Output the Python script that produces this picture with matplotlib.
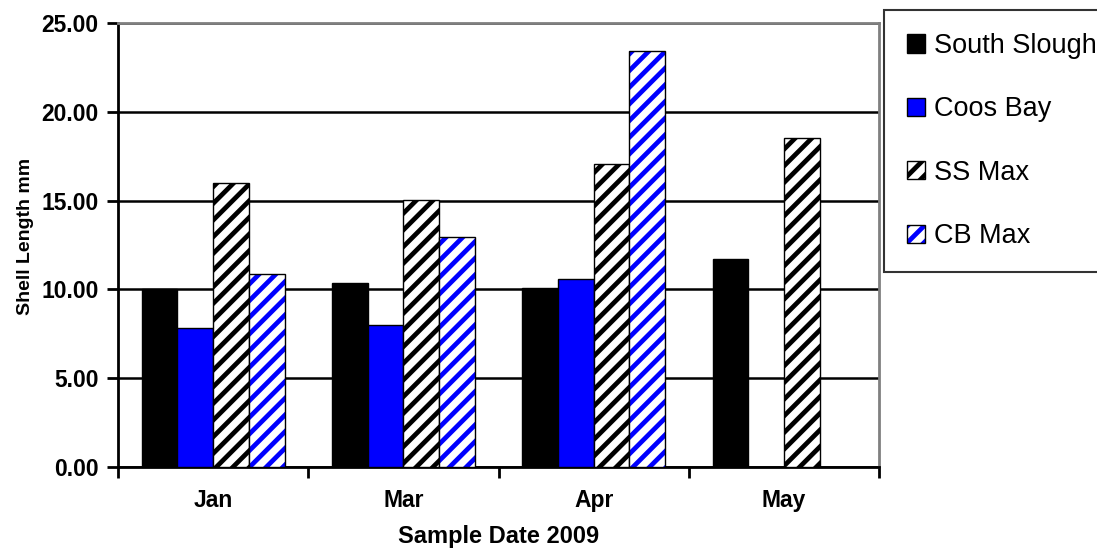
import numpy as np
import matplotlib
matplotlib.use("Agg")
import matplotlib.pyplot as plt
from matplotlib.ticker import FormatStrFormatter

plt.rcParams['font.family'] = ['Liberation Sans', 'DejaVu Sans']
plt.rcParams['hatch.linewidth'] = 3.4

# data
months = ["Jan", "Mar", "Apr", "May"]
south_slough = [10.0, 10.35, 10.1, 11.7]
coos_bay = [7.8, 8.0, 10.6, np.nan]
ss_max = [16.0, 15.05, 17.05, 18.5]
cb_max = [10.85, 12.95, 23.45, np.nan]

fig = plt.figure(figsize=(10.97, 5.55), dpi=100)
ax = fig.add_axes([0.1076, 0.1586, 0.8013 - 0.1076, 0.9586 - 0.1586])

x = np.arange(len(months))
w = 0.1875
offs = np.array([-1.5, -0.5, 0.5, 1.5]) * w

h1 = ax.bar(x + offs[0], south_slough, w, color="black", edgecolor="black", lw=1, zorder=3)
h2 = ax.bar(x + offs[1], coos_bay, w, color="#0000ff", edgecolor="black", lw=1, zorder=3)
h3 = ax.bar(x + offs[2], ss_max, w, color="white", edgecolor="black", hatch="//", lw=1, zorder=3)
h4a = ax.bar(x + offs[3], cb_max, w, color="white", edgecolor="#0000ff", hatch="//", lw=0, zorder=3)
h4b = ax.bar(x + offs[3], cb_max, w, fill=False, edgecolor="black", lw=1, zorder=4)

ax.set_xlim(-0.5, len(months) - 0.5)
ax.set_ylim(0, 25)
ax.set_yticks(np.arange(0, 26, 5))
ax.yaxis.set_major_formatter(FormatStrFormatter("%.2f"))
ax.yaxis.grid(True, color="black", lw=1.8, zorder=0)
ax.set_axisbelow(True)

ax.set_xticks(x)
ax.set_xticklabels(months, fontsize=16.5, fontweight="bold")
ax.set_xticks(np.arange(-0.5, len(months)), minor=True)
ax.tick_params(axis="x", which="major", length=0, pad=16)
ax.tick_params(axis="x", which="minor", length=8, width=2, direction="out")
ax.tick_params(axis="y", length=8, width=2, direction="out", labelsize=16.5, pad=6)
for t in ax.get_yticklabels():
    t.set_fontweight("bold")

for s in ["left", "bottom"]:
    ax.spines[s].set_linewidth(2)
    ax.spines[s].set_color("black")
for s in ["top", "right"]:
    ax.spines[s].set_linewidth(2)
    ax.spines[s].set_color("#808080")

ax.set_xlabel("Sample Date 2009", fontsize=17, fontweight="bold", labelpad=9)
ax.set_ylabel("Shell Length mm", fontsize=14, fontweight="bold")
ax.yaxis.set_label_coords(-0.111, 0.52)

leg = fig.legend([h1[0], h2[0], h3[0], (h4a[0], h4b[0])],
                 ["South Slough", "Coos Bay", "SS Max", "CB Max"],
                 loc="upper left", bbox_to_anchor=(884 / 1097, 1 - 10 / 555),
                 fontsize=19.5, frameon=True, fancybox=False, edgecolor="black",
                 handlelength=0.65, handleheight=0.65, handletextpad=0.35,
                 labelspacing=1.38, borderpad=0.85, borderaxespad=0)
leg.get_frame().set_linewidth(1.5)

fig.savefig("out.png", dpi=100)
